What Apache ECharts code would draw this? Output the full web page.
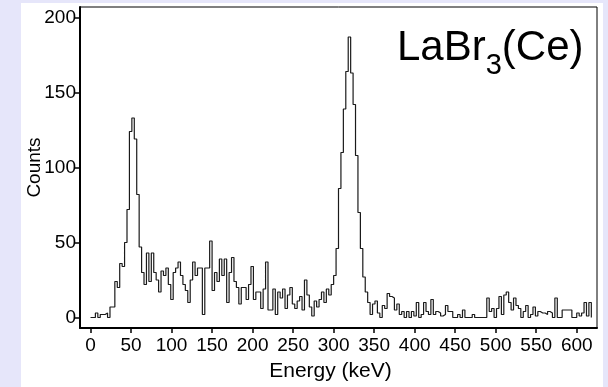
<!DOCTYPE html>
<html>
<head>
<meta charset="utf-8">
<script src="https://cdn.jsdelivr.net/npm/echarts@6/dist/echarts.min.js"></script>
<style>
  html, body { margin: 0; padding: 0; background: #e6e6fa; }
  #chart { width: 608px; height: 387px; }
</style>
</head>
<body>
<div id="chart"></div>
<script>
// Gamma spectrum, 3 keV channels, counts per channel
const binWidth = 3; // keV

// 0 – 69 keV: threshold and the ~50 keV line
const countsLow = [0, 0, 3, 0, 2, 2, 3, 0, 7, 7, 24, 20, 36, 34, 50, 72, 124, 133, 119, 82, 47, 30, 22];
// 69 – 255 keV: Compton continuum
const countsContinuum = [43, 24, 43, 30, 25, 17, 31, 28, 33, 22, 12, 30, 33, 37, 28, 22, 18, 10, 25, 37,
  28, 33, 33, 2, 33, 33, 51, 18, 30, 24, 39, 28, 39, 10, 30, 40, 24, 20, 9, 20,
  20, 12, 22, 34, 12, 17, 17, 6, 19, 37, 5, 5, 19, 2, 17, 13, 19, 6, 15, 20, 9, 6];
// 255 – 345 keV: the ~320 keV photopeak
const countsPeak = [11, 14, 5, 25, 15, 7, 1, 11, 7, 12, 17, 10, 19, 15, 22, 28, 46, 86, 110, 139,
  164, 187, 163, 142, 108, 70, 46, 27, 17, 10];
// 345 – 618 keV: high-energy tail
const countsHigh = [2, 9, 11, 3, 0, 8, 6, 16, 14, 13, 5, 9, 2, 4, 0, 4, 0, 4, 1, 10,
  0, 2, 10, 4, 2, 12, 2, 4, 3, 1, 2, 8, 4, 4, 0, 0, 2, 0, 5, 0,
  0, 0, 2, 0, 0, 0, 0, 0, 13, 4, 6, 0, 6, 14, 2, 15, 17, 10, 5, 13,
  8, 6, 0, 4, 8, 0, 2, 7, 1, 4, 3, 3, 2, 4, 3, 0, 13, 0, 0, 5,
  5, 5, 5, 0, 0, 3, 1, 3, 10, 1, 10];

const xTicks = [0, 50, 100, 150, 200, 250, 300, 350, 400, 450, 500, 550, 600];
const yTicks = [0, 50, 100, 150, 200];

const counts = countsLow.concat(countsContinuum, countsPeak, countsHigh);
// each channel as [lower edge, counts]; closing point drops back to zero
const points = counts.map((c, i) => [i * binWidth, c]);
points.push([counts.length * binWidth, 0]);

const font = 'Liberation Sans, Arial, sans-serif';
const chart = echarts.init(document.getElementById('chart'));
chart.setOption({
  animation: false,
  backgroundColor: '#e6e6fa',
  graphic: [
    { type: 'rect', z: -10, shape: { x: 21, y: 3, width: 582, height: 390 }, style: { fill: '#ffffff' } },
    {
      type: 'text', left: 397, top: 27, z: 10,
      style: {
        text: '{m|LaBr}{s|3}{m|(Ce)}',
        font: '42px ' + font,
        fill: '#000',
        rich: {
          m: { fontSize: 42, fontFamily: font, lineHeight: 45, verticalAlign: 'top', fill: '#000' },
          s: { fontSize: 29, fontFamily: font, lineHeight: 31, verticalAlign: 'top', padding: [24, 0, 0, 0], fill: '#000' }
        }
      }
    }
  ],
  grid: { left: 80, right: 11, top: 7, bottom: 58, show: true, borderColor: '#000', borderWidth: 1, backgroundColor: '#fff' },
  xAxis: {
    type: 'value', min: -13, max: 625,
    name: 'Energy (keV)', nameLocation: 'middle', nameGap: 33, nameMoveOverlap: false,
    nameTextStyle: { fontFamily: font, fontSize: 21, color: '#000', padding: [0, 16, 0, 0] },
    axisLine: { show: true, onZero: false, lineStyle: { color: '#000', width: 2 } },
    axisTick: { show: true, length: 5, lineStyle: { color: '#000', width: 1.5 }, customValues: xTicks },
    axisLabel: { customValues: xTicks, fontFamily: font, fontSize: 19, color: '#000', margin: 8 },
    splitLine: { show: false }
  },
  yAxis: {
    type: 'value', min: -7, max: 207,
    name: 'Counts', nameLocation: 'middle', nameGap: 36, nameMoveOverlap: false,
    nameTextStyle: { fontFamily: font, fontSize: 19, color: '#000' },
    axisLine: { show: true, onZero: false, lineStyle: { color: '#000', width: 2 } },
    axisTick: { show: true, length: 5, lineStyle: { color: '#000', width: 1.5 }, customValues: yTicks },
    axisLabel: { customValues: yTicks, fontFamily: font, fontSize: 19, color: '#000', margin: 4 },
    splitLine: { show: false }
  },
  series: [{
    type: 'line',
    step: 'end',
    data: points,
    symbol: 'none',
    lineStyle: { color: '#1a1a1a', width: 1.2 }
  }]
});
</script>
</body>
</html>
